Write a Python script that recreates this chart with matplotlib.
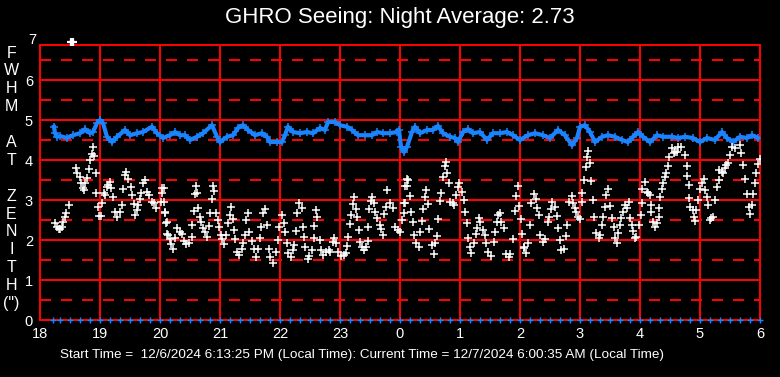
import matplotlib
matplotlib.use("Agg")
import matplotlib.pyplot as plt

plt.rcParams['font.family'] = ['Liberation Sans', 'DejaVu Sans']
plt.rcParams['lines.scale_dashes'] = False

# ---------------- data ----------------
title_text = "GHRO Seeing: Night Average: 2.73"
footer_text = "Start Time =  12/6/2024 6:13:25 PM (Local Time): Current Time = 12/7/2024 6:00:35 AM (Local Time)"
ylabel_letters = ["F", "W", "H", "M", "", "A", "T", "", "Z", "E", "N", "I", "T", "H", "(\")"]
x_ticks = [18, 19, 20, 21, 22, 23, 24, 25, 26, 27, 28, 29, 30]
x_tick_labels = ["18", "19", "20", "21", "22", "23", "0", "1", "2", "3", "4", "5", "6"]
y_ticks = [0, 1, 2, 3, 4, 5, 6, 7]

# blue series (hours since midnight of start day, continuing past 24)
blue_t = [18.233, 18.25, 18.283, 18.333, 18.45, 18.55, 18.667, 18.75, 18.833, 18.883,
          18.95, 19.0, 19.05, 19.117, 19.2, 19.283, 19.417, 19.5, 19.617, 19.717,
          19.867, 19.95, 20.05, 20.167, 20.25, 20.333, 20.417, 20.5, 20.617, 20.717,
          20.867, 20.95, 21.0, 21.117, 21.217, 21.3, 21.383, 21.467, 21.583, 21.7,
          21.783, 21.833, 21.95, 22.033, 22.083, 22.133, 22.217, 22.333, 22.45, 22.55,
          22.667, 22.75, 22.8, 22.917, 23.0, 23.117, 23.2, 23.3, 23.417, 23.533,
          23.617, 23.717, 23.833, 23.95, 23.983, 24.017, 24.067, 24.117, 24.2, 24.25,
          24.333, 24.45, 24.55, 24.633, 24.717, 24.833, 24.917, 24.967, 25.05, 25.133,
          25.217, 25.333, 25.45, 25.55, 25.667, 25.783, 25.883, 26.0, 26.133, 26.25,
          26.383, 26.5, 26.633, 26.75, 26.867, 26.95, 27.0, 27.083, 27.167, 27.25,
          27.367, 27.467, 27.583, 27.7, 27.8, 27.883, 27.967, 28.05, 28.167, 28.283,
          28.383, 28.533, 28.633, 28.75, 28.883, 29.0, 29.117, 29.25, 29.367, 29.45,
          29.55, 29.667, 29.783, 29.867, 29.967]
blue_v = [4.83, 4.67, 4.58, 4.6, 4.55, 4.62, 4.67, 4.77, 4.67, 4.7,
          4.92, 5.0, 4.92, 4.58, 4.45, 4.58, 4.75, 4.62, 4.67, 4.7,
          4.83, 4.67, 4.55, 4.62, 4.7, 4.62, 4.62, 4.5, 4.58, 4.67,
          4.87, 4.58, 4.45, 4.58, 4.62, 4.8, 4.87, 4.75, 4.62, 4.67,
          4.58, 4.45, 4.45, 4.45, 4.62, 4.83, 4.7, 4.67, 4.7, 4.67,
          4.8, 4.75, 4.95, 4.95, 4.87, 4.83, 4.75, 4.62, 4.62, 4.62,
          4.7, 4.67, 4.67, 4.7, 4.75, 4.33, 4.2, 4.33, 4.7, 4.83,
          4.67, 4.75, 4.75, 4.85, 4.67, 4.58, 4.55, 4.45, 4.7, 4.77,
          4.67, 4.7, 4.5, 4.67, 4.67, 4.7, 4.62, 4.5, 4.62, 4.67,
          4.62, 4.55, 4.75, 4.62, 4.37, 4.55, 4.83, 4.87, 4.7, 4.45,
          4.58, 4.62, 4.58, 4.5, 4.45, 4.58, 4.7, 4.58, 4.45, 4.62,
          4.58, 4.58, 4.55, 4.58, 4.55, 4.45, 4.55, 4.5, 4.7, 4.55,
          4.45, 4.58, 4.55, 4.62, 4.55]

# white series
white_t = [18.25, 18.28, 18.31, 18.34, 18.37, 18.39, 18.42, 18.44, 18.48,
           18.6, 18.62, 18.66, 18.68, 18.71, 18.73, 18.75, 18.78, 18.81, 18.83, 18.86, 18.89, 18.9,
           18.93, 18.94, 18.96, 18.99, 19.01, 19.03, 19.06, 19.08, 19.11, 19.14, 19.17, 19.19,
           19.22, 19.25, 19.29, 19.33, 19.36, 19.39, 19.42, 19.44, 19.47, 19.51, 19.53, 19.56,
           19.58, 19.62, 19.64, 19.67, 19.69, 19.72, 19.75, 19.79, 19.82, 19.86, 19.9, 19.94,
           20.01, 20.03, 20.06, 20.07, 20.09, 20.11, 20.14,
           20.04, 20.08, 20.1, 20.12, 20.16, 20.19, 20.21, 20.25, 20.29, 20.33, 20.36, 20.4,
           20.44, 20.49, 20.53, 20.54, 20.56, 20.58, 20.6, 20.62, 20.64, 20.66, 20.69, 20.72,
           20.75, 20.78, 20.81, 20.83, 20.86, 20.88, 20.9, 20.93, 20.96, 20.99, 21.01, 21.03,
           21.07, 21.1, 21.13, 21.16, 21.18, 21.21, 21.23, 21.25, 21.28, 21.32, 21.36, 21.39,
           21.42, 21.44, 21.46, 21.49, 21.53, 21.56, 21.6, 21.64, 21.67, 21.69, 21.72, 21.75,
           21.78, 21.81, 21.83, 21.89, 21.94, 21.97, 21.99, 22.03, 22.06, 22.09, 22.12, 22.14,
           22.18, 22.21, 22.23, 22.26, 22.28, 22.32, 22.36, 22.38, 22.4, 22.42, 22.46, 22.49,
           22.53, 22.56, 22.57, 22.6, 22.62, 22.66, 22.69, 22.72, 22.77, 22.81, 22.84, 22.88,
           22.9, 22.93, 22.97, 23.01, 23.06, 23.1, 23.12, 23.14, 23.16, 23.18, 23.21, 23.23,
           23.27, 23.29, 23.31, 23.33, 23.36, 23.4, 23.43, 23.46, 23.47, 23.49, 23.51, 23.54,
           23.57, 23.59, 23.62, 23.66, 23.68, 23.71, 23.73, 23.77, 23.79, 23.83, 23.88, 23.92,
           23.96, 24.0, 24.03, 24.06, 24.08, 24.11, 24.14,
           24.07, 24.09, 24.12, 24.16, 24.18, 24.21, 24.23, 24.27, 24.31, 24.33, 24.36, 24.39,
           24.42, 24.43, 24.46, 24.49, 24.53, 24.56, 24.58, 24.61, 24.64, 24.67, 24.68, 24.71,
           24.75, 24.77, 24.79, 24.82, 24.84, 24.88, 24.9, 24.93, 24.96, 24.99, 25.03, 25.06,
           25.09, 25.11, 25.14, 25.17, 25.19, 25.23, 25.27, 25.29, 25.32, 25.34, 25.38, 25.42,
           25.44, 25.47, 25.51, 25.56, 25.58, 25.61, 25.64, 25.66, 25.69, 25.73, 25.77, 25.81,
           25.84, 25.88, 25.92, 25.93, 25.96, 25.99, 26.01, 26.03, 26.07, 26.1, 26.14,
           26.06, 26.17, 26.19, 26.23, 26.27, 26.29, 26.32, 26.34, 26.38, 26.42, 26.46, 26.49,
           26.51, 26.54, 26.58, 26.61, 26.64, 26.67, 26.69, 26.73, 26.77, 26.79, 26.82, 26.86,
           26.89, 26.92, 26.94, 26.97, 27.0, 27.03, 27.04, 27.07, 27.1, 27.12, 27.14, 27.17,
           27.19, 27.21, 27.23, 27.27, 27.31, 27.33, 27.36, 27.39, 27.42, 27.44, 27.47, 27.5,
           27.53, 27.56, 27.58, 27.61, 27.64, 27.67, 27.69, 27.72, 27.75, 27.78, 27.81, 27.83,
           27.86, 27.89, 27.92, 27.94, 27.99, 28.01, 28.03, 28.04, 28.08, 28.11,
           28.14, 28.16, 28.18, 28.19, 28.22, 28.25, 28.28, 28.31, 28.32, 28.34, 28.36, 28.39,
           28.42, 28.44, 28.47, 28.49, 28.53, 28.56, 28.58, 28.61, 28.64, 28.69, 28.75, 28.78,
           28.79, 28.81, 28.82, 28.84, 28.88, 28.9, 28.92, 28.94, 28.97, 29.0, 29.03, 29.06,
           29.08, 29.11, 29.14, 29.17, 29.19, 29.22, 29.25, 29.28, 29.31, 29.32, 29.36, 29.39,
           29.42, 29.44, 29.47, 29.5, 29.54, 29.58, 29.67, 29.69, 29.72, 29.75, 29.78, 29.81,
           29.83, 29.86, 29.89, 29.92, 29.94, 29.97, 30.0]
white_v = [2.42, 2.32, 2.27, 2.27, 2.33, 2.46, 2.57, 2.68, 2.87,
           3.79, 3.68, 3.57, 3.43, 3.29, 3.25, 3.42, 3.54, 3.77, 4.0, 4.15, 4.32, 4.1,
           3.67, 3.18, 2.83, 2.6, 2.6, 2.92, 3.17, 3.12, 3.33, 3.37, 3.46, 3.29,
           3.08, 2.71, 2.58, 2.71, 2.88, 3.27, 3.62, 3.71, 3.52, 3.32, 3.12, 2.9,
           2.62, 2.75, 2.88, 3.02, 3.18, 3.42, 3.5, 3.21, 3.12, 2.96, 2.92, 2.79,
           2.96, 3.17, 3.29, 2.96, 2.71, 2.46, 2.12,
           3.29, 2.68, 2.43, 2.15, 2.02, 1.9, 1.77, 2.04, 2.29, 2.21, 2.15, 1.98,
           1.9, 1.93, 2.08, 2.38, 2.73, 3.15, 3.35, 3.17, 2.79, 2.57, 2.46, 2.29,
           2.21, 2.08, 2.35, 2.67, 3.02, 3.35, 3.23, 2.67, 2.5, 2.32, 2.13, 2.02,
           1.9, 2.13, 2.42, 2.63, 2.82, 2.52, 2.25, 2.02, 1.71, 1.62, 1.77, 1.92,
           2.13, 2.5, 2.68, 2.21, 1.98, 1.77, 1.57, 1.77, 2.04, 2.32, 2.67, 2.77,
           2.38, 1.77, 1.57, 1.42, 1.71, 2.0, 2.33, 2.62, 2.43, 2.21, 1.93, 1.67,
           1.57, 1.75, 1.88, 2.23, 2.67, 2.93, 2.79, 2.32, 2.07, 1.82, 1.52, 1.6,
           1.75, 2.04, 2.35, 2.75, 2.58, 2.0, 1.75, 1.62, 1.71, 1.75, 1.71, 1.96,
           2.04, 1.93, 1.71, 1.6, 1.62, 1.68, 1.85, 2.08, 2.4, 2.63, 2.9, 3.07,
           2.77, 2.57, 2.25, 1.96, 1.83, 1.75, 1.82, 1.98, 2.33, 2.77, 2.98, 3.07,
           2.93, 2.71, 2.54, 2.38, 2.27, 2.13, 2.65, 2.82, 3.25, 2.92, 2.79, 2.33,
           2.25, 2.21, 2.5, 2.68, 2.93, 3.35, 3.5,
           2.92, 3.35, 3.52, 3.1, 2.71, 2.46, 2.12, 1.92, 1.83, 2.21, 2.48, 2.77,
           3.07, 3.25, 2.9, 2.27, 1.88, 1.65, 1.92, 2.1, 2.52, 2.98, 3.17, 3.58,
           3.85, 3.96, 3.67, 3.42, 2.96, 2.92, 2.88, 3.12, 3.33, 3.43, 3.2, 3.0,
           2.71, 2.42, 2.04, 1.83, 1.67, 1.92, 2.15, 2.29, 2.54, 2.46, 2.25, 2.12,
           1.92, 1.71, 1.6, 1.96, 2.21, 2.46, 2.62, 2.68, 2.46, 2.29, 1.65, 1.57,
           1.65, 2.02, 2.73, 3.1, 3.35, 2.85, 2.52, 2.15, 1.79, 1.68, 1.92,
           1.83, 2.38, 2.92, 3.15, 3.02, 2.79, 2.62, 2.12, 1.96, 2.02, 2.46, 2.57,
           2.77, 2.96, 2.83, 2.6, 2.29, 2.0, 1.75, 1.77, 2.1, 2.38, 2.96, 3.1,
           2.92, 2.79, 2.71, 2.58, 2.52, 2.96, 3.17, 3.5, 3.83, 4.07, 4.23, 3.92,
           3.48, 3.0, 2.58, 2.17, 2.04, 2.12, 2.38, 2.58, 2.83, 3.12, 3.27, 2.85,
           2.54, 2.32, 2.04, 1.92, 2.17, 2.38, 2.54, 2.71, 2.88, 2.79, 2.96, 2.54,
           2.38, 2.23, 2.04, 2.08, 2.38, 2.62, 2.93, 3.27, 3.46, 3.21,
           3.17, 3.12, 2.88, 2.71, 2.46, 2.32, 2.42, 2.58, 2.79, 3.07, 3.27, 3.42,
           3.58, 3.68, 3.85, 4.07, 4.29, 4.17, 4.21, 4.21, 4.32, 4.32, 4.12, 3.85,
           3.6, 3.38, 3.04, 2.83, 2.75, 2.58, 2.48, 2.75, 3.0, 3.27, 3.43, 3.52,
           3.25, 3.08, 2.88, 2.5, 2.54, 2.58, 3.0, 3.33, 3.5, 3.75, 3.71, 3.68,
           3.79, 3.88, 3.93, 4.12, 4.33, 4.29, 4.38, 4.17, 3.88, 3.52, 3.15, 2.83,
           2.65, 2.88, 3.15, 3.43, 3.68, 3.9, 4.02]

# off-scale white reading (clipped at the top)
outlier_t = [18.51, 18.55]
outlier_v = [6.95, 6.95]

# blue baseline markers (sample times, value 0)
base_t = [18 + 13 / 60] + [k / 6 for k in range(110, 181)]
base_v = [0] * len(base_t)

# ---------------- drawing ----------------
W, H = 780, 377
fig = plt.figure(figsize=(W / 100, H / 100), dpi=100, facecolor="black")
ax = fig.add_axes([40 / W, (H - 320) / H, 720 / W, 275 / H])
ax.set_facecolor("black")
ax.set_xlim(18, 30)
ax.set_ylim(0, 6.875)

red = "#ff0000"
glw = 1.1
for v in [1, 2, 3, 4, 5, 6]:
    ax.axhline(v, color=red, lw=glw, zorder=1, antialiased=False)
for v in [0.5, 1.5, 2.5, 3.5, 4.5, 5.5, 6.5]:
    ax.axhline(v, color=red, lw=glw, dashes=(7.2, 7.2), zorder=1, antialiased=False)
for t in x_ticks[1:-1]:
    ax.axvline(t, color=red, lw=glw, zorder=1, antialiased=False)
for s in ax.spines.values():
    s.set_color(red)
    s.set_linewidth(glw)
    s.set_antialiased(False)

blue = "#1a84ff"
ax.plot(blue_t, blue_v, color=blue, lw=3.0, zorder=3)
ax.plot(blue_t, blue_v, ls="none", marker="+", ms=5.5, mew=1.1, color=blue, zorder=3)
ax.plot(white_t, white_v, ls="none", marker="+", ms=5.5, mew=1.1, color="white", zorder=4)
ax.plot(outlier_t, outlier_v, ls="none", marker="+", ms=5.5, mew=1.6, color="white",
        zorder=5, clip_on=False)
ax.plot(base_t, base_v, ls="none", marker="+", ms=5, mew=1.0, color=blue, zorder=5,
        clip_on=False)

ax.set_xticks(x_ticks)
ax.set_xticklabels(x_tick_labels)
ax.set_yticks(y_ticks[:-1])
ax.set_yticklabels([str(v) for v in y_ticks[:-1]])
ax.tick_params(axis="both", length=0, colors="white", labelsize=10.5)
ax.tick_params(axis="y", pad=5)
ax.tick_params(axis="x", pad=5)
ax.text(-0.005, 7, str(y_ticks[-1]), transform=ax.get_yaxis_transform(), ha="right",
        va="center", color="white", fontsize=10.5, clip_on=False)

fig.text(400 / W, 1 - 18 / H, title_text, ha="center", va="center", color="white", fontsize=16)
fig.text(362 / W, 1 - 355 / H, footer_text, ha="center", va="center", color="white", fontsize=9.7)
for i, ch in enumerate(ylabel_letters):
    if ch:
        fig.text(11.5 / W, 1 - (53 + i * 17.9) / H, ch, ha="center", va="center",
                 color="white", fontsize=11.5)

fig.savefig("out.png", dpi=100, facecolor="black")
